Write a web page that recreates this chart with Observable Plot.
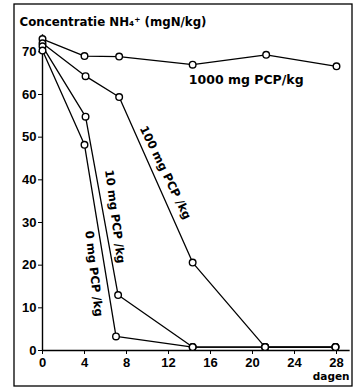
<!DOCTYPE html>
<html>
<head>
<meta charset="utf-8">
<script src="https://cdn.jsdelivr.net/npm/d3@7"></script>
<script src="https://cdn.jsdelivr.net/npm/@observablehq/plot@0.6"></script>
<style>
  body { margin: 0; background: #fff; }
  #chart svg { font-family: "Liberation Sans", Arial, sans-serif; }
</style>
</head>
<body>
<div id="chart"></div>
<script>
// Data (days, NH4+ concentration mgN/kg)
const series = ["1000 mg PCP/kg", "100 mg PCP /kg", "10 mg PCP /kg", "0 mg PCP /kg"];
const days1000 = [0, 4.0, 7.3, 14.3, 21.3, 28.0];
const conc1000 = [73.0, 69.0, 68.9, 67.0, 69.3, 66.6];
const days100 = [0, 4.1, 7.3, 14.3, 21.2, 27.9];
const conc100 = [72.0, 64.3, 59.4, 20.6, 0.8, 0.8];
const days10 = [0, 4.1, 7.2, 14.3, 21.2, 27.9];
const conc10 = [71.3, 54.8, 13.0, 0.8, 0.8, 0.8];
const days0 = [0, 4.0, 7.0, 14.3, 21.2, 27.9];
const conc0 = [70.3, 48.2, 3.3, 0.8, 0.8, 0.8];
const xTicks = [0, 4, 8, 12, 16, 20, 24, 28];
const yTicks = [0, 10, 20, 30, 40, 50, 60, 70];
const title = "Concentratie NH\u2084\u207A (mgN/kg)";
const xLabel = "dagen";
// label anchors along each curve: [x, y, rotate]
const labelX = [19.4, 11.7, 6.9, 4.9];
const labelY = [63.3, 41.7, 31.4, 18.0];
const labelRotate = [0, 64, 82.5, 83.5];

const allDays = [days1000, days100, days10, days0];
const allConc = [conc1000, conc100, conc10, conc0];
const rows = [];
series.forEach((s, i) => allDays[i].forEach((d, j) => rows.push({series: s, day: d, conc: allConc[i][j]})));
const labels = series.map((s, i) => ({series: s, x: labelX[i], y: labelY[i], rotate: labelRotate[i]}));

const plot = Plot.plot({
  width: 360,
  height: 392,
  marginLeft: 42,
  marginRight: 24,
  marginTop: 30,
  marginBottom: 42,
  x: {domain: [0, 28], ticks: xTicks, tickSize: 4, tickPadding: 3, label: null},
  y: {domain: [0, 75], ticks: yTicks, tickSize: 4, tickPadding: 2, label: null},
  style: {fontSize: "13px", fontWeight: "bold", color: "#000"},
  marks: [
    Plot.ruleX([0], {y1: 0, y2: 74, stroke: "#000", strokeWidth: 1.4}),
    Plot.ruleY([0], {x1: 0, x2: 29.3, stroke: "#000", strokeWidth: 1.4}),
    Plot.line(rows, {x: "day", y: "conc", z: "series", stroke: "#000", strokeWidth: 1.3}),
    Plot.dot(rows, {x: "day", y: "conc", r: 3.3, fill: "#fff", stroke: "#000", strokeWidth: 1.4}),
    Plot.text(labels.slice(0, 1), {x: "x", y: "y", text: "series", rotate: "rotate", fontSize: 12.5, fontWeight: "bold", fontFamily: "DejaVu Sans", fill: "#000"}),
    Plot.text(labels.slice(1), {x: "x", y: "y", text: "series", rotate: "rotate", fontSize: 11.6, fontWeight: "bold", fontFamily: "DejaVu Sans", fill: "#000"}),
    Plot.text([title], {frameAnchor: "top-left", dx: -23, dy: -13, textAnchor: "start", fontSize: 11.8, fontWeight: "bold", fontFamily: "DejaVu Sans", fill: "#000"}),
    Plot.text([xLabel], {frameAnchor: "bottom-right", dx: 13, dy: 29, textAnchor: "end", fontSize: 10.5, fontWeight: "bold", fontFamily: "DejaVu Sans", fill: "#000"})
  ]
});
document.getElementById("chart").appendChild(plot);
d3.select(plot).append("rect")
  .attr("x", 14).attr("y", 4).attr("width", 338).attr("height", 382)
  .attr("fill", "none").attr("stroke", "#000").attr("stroke-width", 1.3);
</script>
</body>
</html>
